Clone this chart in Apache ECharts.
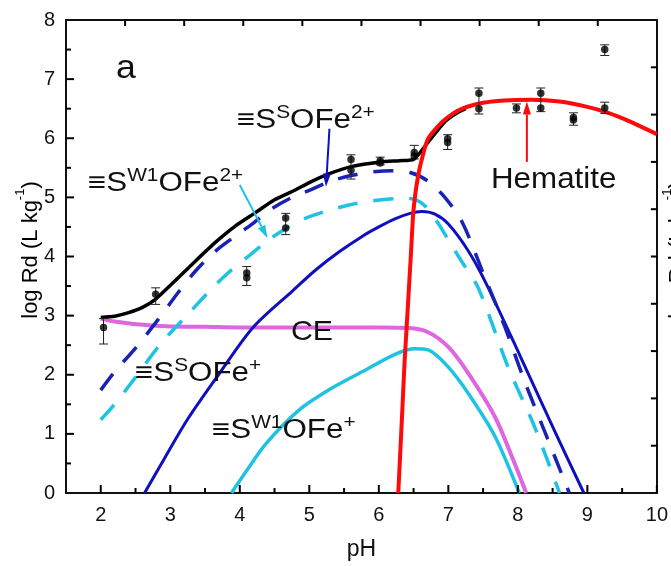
<!DOCTYPE html>
<html>
<head>
<meta charset="utf-8">
<script src="https://cdn.jsdelivr.net/npm/echarts@6/dist/echarts.min.js"></script>
<style>html,body{margin:0;padding:0;background:#fff}#c{width:671px;height:566px}</style>
</head>
<body>
<div id="c"></div>
<script>
// ---- axes / tick labels ----
var X_MIN = 1.5, X_MAX = 10, Y_MIN = 0, Y_MAX = 8;
var xTickValues = [2, 3, 4, 5, 6, 7, 8, 9, 10];
var xMinorValues = [2.5, 3.5, 4.5, 5.5, 6.5, 7.5, 8.5, 9.5];
var yTickValues = [1, 2, 3, 4, 5, 6, 7];
var yMinorValues = [0.5, 1.5, 2.5, 3.5, 4.5, 5.5, 6.5, 7.5];
var topTickValues = [1, 2, 3, 4, 5, 6, 7, 8, 9];
var rightTickValues = [1, 2, 3, 4, 5, 6, 7, 8, 9];

// ---- Total model (black) ----
var totalPH = [2.0, 2.2, 2.4, 2.6, 2.79, 3.07, 3.36, 3.64, 3.93, 4.21, 4.5, 4.79, 5.0, 5.29, 5.6, 6.02, 6.3, 6.5, 6.7, 6.95, 7.14, 7.25];
var totalY  = [2.97, 2.99, 3.05, 3.14, 3.28, 3.59, 3.92, 4.23, 4.51, 4.73, 4.96, 5.12, 5.25, 5.40, 5.52, 5.60, 5.62, 5.64, 5.92, 6.28, 6.44, 6.50];

// ---- Hematite (red) ----
var hemPH = [6.28, 6.33, 6.37, 6.41, 6.46, 6.5, 6.58, 6.7, 6.85, 7.0, 7.2, 7.5, 7.8, 8.2, 8.6, 9.0, 9.3, 9.6, 10.0];
var hemY  = [0, 1.2, 2.2, 3.0, 4.0, 4.8, 5.45, 5.97, 6.2, 6.36, 6.5, 6.6, 6.64, 6.65, 6.62, 6.53, 6.43, 6.29, 6.07];

// ---- ≡S^S OFe2+ (navy dashed) ----
var ssFe2PH = [2.0, 2.2, 2.5, 2.83, 3.1, 3.36, 3.65, 3.93, 4.2, 4.45, 4.75, 5.0, 5.3, 5.6, 5.9, 6.2, 6.45, 6.7, 6.95, 7.2, 7.5, 7.8, 8.1, 8.4, 8.74];
var ssFe2Y  = [1.74, 2.05, 2.45, 2.94, 3.37, 3.75, 4.09, 4.34, 4.57, 4.80, 5.0, 5.12, 5.27, 5.37, 5.43, 5.45, 5.42, 5.28, 5.0, 4.58, 3.72, 2.85, 1.88, 1.0, 0];

// ---- ≡S^W1 OFe2+ (cyan dashed) ----
var sw1Fe2PH = [2.0, 2.17, 2.47, 2.86, 3.26, 3.55, 3.83, 4.14, 4.45, 4.7, 4.95, 5.25, 5.57, 5.9, 6.24, 6.4, 6.55, 6.67, 6.86, 7.0, 7.19, 7.43, 7.86, 8.24, 8.6];
var sw1Fe2Y  = [1.24, 1.46, 1.91, 2.52, 3.03, 3.40, 3.72, 4.02, 4.31, 4.50, 4.65, 4.77, 4.87, 4.94, 4.98, 4.99, 4.95, 4.85, 4.55, 4.28, 3.92, 3.47, 2.13, 1.12, 0];

// ---- ≡S^S OFe+ (navy solid) ----
var ssFePH = [2.63, 2.9, 3.24, 3.67, 4.19, 4.76, 5.1, 5.43, 5.76, 6.0, 6.24, 6.45, 6.62, 6.8, 7.0, 7.29, 7.55, 8.04, 8.52, 8.95];
var ssFeY  = [0, 0.55, 1.23, 1.96, 2.80, 3.42, 3.78, 4.08, 4.34, 4.50, 4.64, 4.73, 4.76, 4.72, 4.55, 4.09, 3.53, 2.30, 1.07, 0];

// ---- ≡S^W1 OFe+ (cyan solid) ----
var sw1FePH = [3.88, 4.1, 4.38, 4.86, 5.29, 5.76, 6.24, 6.52, 6.71, 7.0, 7.29, 7.67, 8.02];
var sw1FeY  = [0, 0.38, 0.84, 1.41, 1.75, 2.05, 2.35, 2.44, 2.42, 2.13, 1.68, 0.96, 0];

// ---- CE (magenta) ----
var cePH = [2.0, 2.2, 2.47, 2.95, 3.5, 4.0, 5.0, 6.0, 6.43, 6.71, 7.0, 7.29, 7.67, 7.95, 8.12];
var ceY  = [2.95, 2.90, 2.86, 2.82, 2.81, 2.80, 2.80, 2.80, 2.79, 2.72, 2.47, 2.02, 1.29, 0.51, 0];

// ---- measured points ----
var ptPH = [2.04, 2.79, 4.10, 4.10, 4.66, 4.66, 5.60, 5.60, 6.02, 6.02, 6.51, 6.51, 6.99, 6.99, 7.44, 7.44, 7.98, 8.33, 8.33, 8.80, 8.80, 9.25, 9.25];
var ptY  = [2.80, 3.36, 3.72, 3.64, 4.65, 4.48, 5.64, 5.46, 5.62, 5.58, 5.76, 5.70, 5.99, 5.93, 6.76, 6.50, 6.51, 6.76, 6.51, 6.35, 6.31, 7.50, 6.51];

// ---- error bars ----
var errPH = [2.04, 2.79, 4.10, 4.66, 5.60, 6.02, 6.51, 6.99, 7.44, 7.98, 8.33, 8.80, 9.25, 9.25];
var errLo = [2.52, 3.19, 3.51, 4.37, 5.31, 5.55, 5.65, 5.81, 6.41, 6.43, 6.45, 6.22, 7.40, 6.42];
var errHi = [2.95, 3.47, 3.83, 4.73, 5.72, 5.68, 5.88, 6.06, 6.85, 6.58, 6.85, 6.43, 7.58, 6.61];

// ---- annotation arrows [fromPH, fromY, toPH, toY] ----
var arrowSS  = [5.29, 6.16, 5.24, 5.18];
var arrowSW1 = [4.00, 5.21, 4.40, 4.31];
var arrowHem = [8.13, 5.60, 8.13, 6.62];

function zip(a, b) { return a.map(function (v, i) { return [v, b[i]]; }); }

var FONT = '"Liberation Sans", Arial, sans-serif';
var NAVY = '#0f0fbf';
var NAVYD = '#1a22b6';
var CYAN = '#1ec3e3';
var MAG = '#de66de';
var RED = '#ff0a0a';

function lineSeries(x, y, color, width, dashed, z, smooth) {
  return {
    type: 'line', data: zip(x, y), showSymbol: false, symbol: 'none',
    smooth: smooth == null ? 0.3 : smooth, z: z || 2, silent: true,
    lineStyle: { color: color, width: width, type: dashed ? [20, 16] : 'solid', cap: 'butt' }
  };
}

// tick marks as thin filled rects, placed through the axis scales; data = [x, y, dxPx, dyPx]
function tickData(vals, fixed, isX, dx, dy) {
  return vals.map(function (v) { return isX ? [v, fixed, dx, dy] : [fixed, v, dx, dy]; });
}
function tickSeries(data, xi, yi) {
  return {
    type: 'custom', xAxisIndex: xi, yAxisIndex: yi, z: 9, silent: true,
    data: data,
    encode: { x: 0, y: 1 },
    renderItem: function (params, api) {
      var p = api.coord([api.value(0), api.value(1)]);
      var dx = api.value(2), dy = api.value(3);
      var r = dx !== 0
        ? { x: Math.min(p[0], p[0] + dx), y: p[1] - 1, width: Math.abs(dx), height: 2 }
        : { x: p[0] - 1, y: Math.min(p[1], p[1] + dy), width: 2, height: Math.abs(dy) };
      return { type: 'group', children: [{ type: 'rect', shape: r, style: { fill: '#000' } }] };
    }
  };
}

// arrows drawn through the axis scales
function arrowSeries(arrows, colors) {
  return {
    type: 'custom', z: 8, silent: true,
    data: arrows.map(function (a, i) { return [a[0], a[1], a[2], a[3], i]; }),
    encode: { x: [0, 2], y: [1, 3] },
    renderItem: function (params, api) {
      var a = api.coord([api.value(0), api.value(1)]);
      var b = api.coord([api.value(2), api.value(3)]);
      var col = colors[api.value(4)];
      var dx = b[0] - a[0], dy = b[1] - a[1];
      var L = Math.sqrt(dx * dx + dy * dy); var ux = dx / L, uy = dy / L;
      var hl = 13, hw = 4;
      var bx = b[0] - ux * hl, by = b[1] - uy * hl;
      return {
        type: 'group', children: [
          { type: 'line', shape: { x1: a[0], y1: a[1], x2: bx, y2: by }, style: { stroke: col, lineWidth: 2 } },
          { type: 'polygon', shape: { points: [[b[0], b[1]], [bx - uy * hw, by + ux * hw], [bx + uy * hw, by - ux * hw]] }, style: { fill: col } }
        ]
      };
    }
  };
}

var chart = echarts.init(document.getElementById('c'), null, { renderer: 'canvas' });

var axisLineStyle = { color: '#111', width: 2 };
var option = {
  animation: false,
  backgroundColor: '#fff',
  textStyle: { fontFamily: FONT },
  grid: { left: 66, right: 12, top: 20, bottom: 69, containLabel: false },
  xAxis: [
    {
      type: 'value', min: X_MIN, max: X_MAX, position: 'bottom',
      axisLine: { show: true, onZero: false, lineStyle: axisLineStyle },
      axisTick: { show: false },
      axisLabel: { show: true, customValues: xTickValues, fontSize: 20, color: '#111', margin: 12, fontFamily: FONT },
      splitLine: { show: false },
      name: 'pH', nameLocation: 'middle', nameGap: 45,
      nameTextStyle: { fontSize: 23, color: '#111', fontFamily: FONT }
    },
    {
      type: 'value', min: 0, max: 10, interval: 1, position: 'top',
      axisLine: { show: true, onZero: false, lineStyle: axisLineStyle },
      axisTick: { show: false },
      axisLabel: { show: false }, splitLine: { show: false }
    }
  ],
  yAxis: [
    {
      type: 'value', min: Y_MIN, max: Y_MAX, interval: 1, position: 'left',
      axisLine: { show: true, onZero: false, lineStyle: axisLineStyle },
      axisTick: { show: false },
      axisLabel: { fontSize: 20, color: '#111', margin: 11, fontFamily: FONT },
      splitLine: { show: false }
    },
    {
      type: 'value', min: 0, max: 10, interval: 1, position: 'right',
      axisLine: { show: true, onZero: false, lineStyle: axisLineStyle },
      axisTick: { show: false },
      axisLabel: { show: false }, splitLine: { show: false }
    }
  ],
  series: [
    lineSeries(sw1FePH, sw1FeY, CYAN, 3.5, false, 2),
    lineSeries(cePH, ceY, MAG, 4, false, 2),
    lineSeries(sw1Fe2PH, sw1Fe2Y, CYAN, 3.5, true, 2),
    lineSeries(ssFePH, ssFeY, NAVY, 3, false, 3),
    lineSeries(ssFe2PH, ssFe2Y, NAVYD, 3.5, true, 3),
    lineSeries(totalPH, totalY, '#000', 3.5, false, 4, 0.2),
    lineSeries(hemPH, hemY, RED, 4, false, 5, 0.2),
    {
      type: 'custom', z: 6, silent: true,
      data: errPH.map(function (p, i) { return [p, errLo[i], errHi[i]]; }),
      encode: { x: 0, y: [1, 2] },
      renderItem: function (params, api) {
        var x = api.value(0);
        var a = api.coord([x, api.value(1)]);
        var b = api.coord([x, api.value(2)]);
        var w = 4.5, st = { stroke: '#222', lineWidth: 1 };
        return {
          type: 'group', children: [
            { type: 'line', shape: { x1: a[0], y1: a[1], x2: b[0], y2: b[1] }, style: st },
            { type: 'line', shape: { x1: a[0] - w, y1: a[1], x2: a[0] + w, y2: a[1] }, style: st },
            { type: 'line', shape: { x1: b[0] - w, y1: b[1], x2: b[0] + w, y2: b[1] }, style: st }
          ]
        };
      }
    },
    {
      type: 'scatter', z: 7, silent: true, symbol: 'circle', symbolSize: 7.5,
      itemStyle: { color: '#000' },
      data: zip(ptPH, ptY)
    },
    arrowSeries([arrowSS, arrowSW1, arrowHem], [NAVY, CYAN, RED]),
    tickSeries(
      tickData(xTickValues, Y_MIN, true, 0, -8)
        .concat(tickData(xMinorValues, Y_MIN, true, 0, -5))
        .concat(tickData(yTickValues, X_MIN, false, 8, 0))
        .concat(tickData(yMinorValues, X_MIN, false, 5, 0)), 0, 0),
    tickSeries(tickData(topTickValues, Y_MAX, true, 0, 6), 1, 0),
    tickSeries(tickData(rightTickValues, X_MAX, false, -6, 0), 0, 1)
  ],
  graphic: []
};

var rich = {
  n: { fontSize: 27, fontFamily: FONT, color: '#111', lineHeight: 30, verticalAlign: 'bottom' },
  s: { fontSize: 18, fontFamily: FONT, color: '#111', lineHeight: 30, verticalAlign: 'top' }
};
function label(text, x, y) {
  return {
    type: 'text', x: x, y: y, scaleX: 1.16, z: 20, silent: true,
    style: { text: text, rich: rich, font: '27px ' + FONT, fill: '#111', align: 'left', verticalAlign: 'top' }
  };
}
function plain(text, x, y, size, sx) {
  return {
    type: 'text', x: x, y: y, scaleX: sx || 1.08, z: 20, silent: true,
    style: { text: text, font: size + 'px ' + FONT, fill: '#111', align: 'left', verticalAlign: 'top' }
  };
}
option.graphic = [
  plain('a', 116, 52, 34, 1.05),
  label('{n|≡S}{s|S}{n|OFe}{s|2+}', 237, 104),
  label('{n|≡S}{s|W1}{n|OFe}{s|2+}', 88, 167),
  label('{n|≡S}{s|S}{n|OFe}{s|+}', 135, 357),
  label('{n|≡S}{s|W1}{n|OFe}{s|+}', 212, 414),
  plain('CE', 291, 318, 28),
  plain('Hematite', 491, 165, 29),
  {
    type: 'text', x: 28, y: 250, rotation: Math.PI / 2, z: 20,
    style: {
      text: '{t|log Rd (L kg}{u|-1}{t|)}', align: 'center', verticalAlign: 'middle',
      rich: {
        t: { fontSize: 22, fontFamily: FONT, color: '#111', lineHeight: 28, verticalAlign: 'bottom' },
        u: { fontSize: 13, fontFamily: FONT, color: '#111', lineHeight: 28, verticalAlign: 'top' }
      }
    }
  },
  {
    type: 'text', x: 675, y: 250, rotation: Math.PI / 2, z: 20,
    style: {
      text: '{t|log Rd (L kg}{u|-1}{t|)}', align: 'center', verticalAlign: 'middle',
      rich: {
        t: { fontSize: 22, fontFamily: FONT, color: '#333', lineHeight: 28, verticalAlign: 'bottom' },
        u: { fontSize: 13, fontFamily: FONT, color: '#333', lineHeight: 28, verticalAlign: 'top' }
      }
    }
  }
];

chart.setOption(option);
</script>
</body>
</html>
